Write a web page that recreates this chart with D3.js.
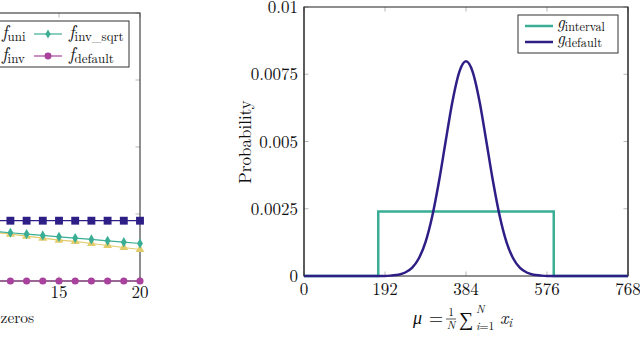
<!DOCTYPE html>
<html>
<head>
<meta charset="utf-8">
<script src="https://cdn.jsdelivr.net/npm/d3@7"></script>
<style>
  body { margin: 0; background: #fff; }
</style>
</head>
<body>
<div id="chart"></div>
<script>
"use strict";

// ---- left chart (cropped) ----
const nZeros = [10, 11, 12, 13, 14, 15, 16, 17, 18, 19, 20];
const fUni = [0.9, 0.9, 0.9, 0.9, 0.9, 0.9, 0.9, 0.9, 0.9, 0.9, 0.9];
const fInv = [0.76, 0.73, 0.70, 0.67, 0.64, 0.61, 0.59, 0.56, 0.53, 0.50, 0.47];
const fInvSqrt = [0.76, 0.74, 0.72, 0.70, 0.68, 0.66, 0.64, 0.62, 0.60, 0.58, 0.56];
const fDefault = [0, 0, 0, 0, 0, 0, 0, 0, 0, 0, 0];
const leftXTicks = [0, 5, 10, 15, 20];
const leftXLabels = [15, 20];
const leftYTicks = [0, 1, 2, 3, 4];

// ---- right chart ----
const muTicks = [0, 192, 384, 576, 768];
const probTicks = [0, 0.0025, 0.005, 0.0075, 0.01];
const intervalMu = [0, 176, 176, 592, 592, 768];
const intervalP = [0, 0, 0.0024, 0.0024, 0, 0];
const defaultMu = [0, 192, 208, 224, 240, 256, 272, 288, 304, 320, 336, 352, 368, 384,
  400, 416, 432, 448, 464, 480, 496, 512, 528, 544, 560, 576, 768];
const defaultP = [0, 0, 0.00002, 0.00005, 0.00013, 0.0003, 0.00065, 0.00126, 0.00222, 0.00352,
  0.00503, 0.0065, 0.00758, 0.00798, 0.00758, 0.0065, 0.00503, 0.00352, 0.00222, 0.00126,
  0.00065, 0.0003, 0.00013, 0.00005, 0.00002, 0, 0];

const colors = {
  teal: "#3aae95",
  navy: "#2d1f86",
  purple: "#a8429c",
  yellow: "#e2cb6a",
  frame: "#333",
  tick: "#b8b8b8"
};
const serif = "'Latin Modern Roman'";

const svg = d3.select("#chart").append("svg")
  .attr("width", 640)
  .attr("height", 357)
  .style("font-family", serif)
  .style("display", "block");

// plain text helper
function label(g, x, y, str, size, anchor) {
  return g.append("text")
    .attr("x", x)
    .attr("y", y)
    .attr("text-anchor", anchor || "start")
    .style("font-family", serif)
    .style("font-size", size + "px")
    .attr("fill", "#111")
    .text(str);
}

// draw a subscripted math label like f_{uni}
function mathLabel(g, x, y, base, sub, size) {
  let t = label(g, x, y, "", size);
  t.append("tspan").style("font-style", "italic").text(base);
  t.append("tspan").attr("dy", 3).style("font-size", (size * 0.72) + "px").text(sub);
  return t;
}

// inward ticks on all four sides, pgfplots style
function frameTicks(g, x, y, xt, yt) {
  let [x0, x1] = x.range();
  let [y0, y1] = y.range();
  xt.forEach((v) => {
    g.append("line").attr("x1", x(v)).attr("x2", x(v)).attr("y1", y0).attr("y2", y0 - 4.5)
      .attr("stroke", colors.tick).attr("stroke-width", 1);
    g.append("line").attr("x1", x(v)).attr("x2", x(v)).attr("y1", y1).attr("y2", y1 + 4.5)
      .attr("stroke", colors.tick).attr("stroke-width", 1);
  });
  yt.forEach((v) => {
    g.append("line").attr("x1", x0).attr("x2", x0 + 4.5).attr("y1", y(v)).attr("y2", y(v))
      .attr("stroke", colors.tick).attr("stroke-width", 1);
    g.append("line").attr("x1", x1).attr("x2", x1 - 4.5).attr("y1", y(v)).attr("y2", y(v))
      .attr("stroke", colors.tick).attr("stroke-width", 1);
  });
  g.append("rect")
    .attr("x", x0).attr("y", y1)
    .attr("width", x1 - x0).attr("height", y0 - y1)
    .attr("fill", "none")
    .attr("stroke", colors.frame)
    .attr("stroke-width", 1.1);
}

// ================= left chart =================
function drawLeft() {
  let g = svg.append("g");
  let x = d3.scaleLinear().domain([0, 20]).range([-184, 140]);
  let y = d3.scaleLinear().domain([0, 4]).range([281, 13]);

  frameTicks(g, x, y, leftXTicks, leftYTicks);

  let series = [
    { vals: fUni, color: colors.navy, sym: d3.symbolSquare, size: 62 },
    { vals: fInv, color: colors.yellow, sym: d3.symbolTriangle, size: 34 },
    { vals: fInvSqrt, color: colors.teal, sym: d3.symbolDiamond, size: 30 },
    { vals: fDefault, color: colors.purple, sym: d3.symbolCircle, size: 40 }
  ];

  let line = d3.line().x((d) => x(d[0])).y((d) => y(d[1]));
  series.forEach((s) => {
    let pts = nZeros.map((n, i) => [n, s.vals[i]]);
    g.append("path")
      .attr("d", line(pts))
      .attr("fill", "none")
      .attr("stroke", s.color)
      .attr("stroke-width", 1.2);
    g.selectAll(null)
      .data(pts)
      .enter()
      .append("path")
      .attr("d", d3.symbol().type(s.sym).size(s.size))
      .attr("transform", (d) => "translate(" + x(d[0]) + "," + y(d[1]) + ")")
      .attr("fill", s.color);
  });

  // only the tick labels that fall inside the crop
  leftXLabels.forEach((v) => label(g, x(v), 298, v, 17, "middle"));
  label(g, 0.5, 323, "zeros", 15.5);

  // legend (left part is cut off by the crop)
  let lg = g.append("g");
  lg.append("rect")
    .attr("x", -90).attr("y", 21)
    .attr("width", 219).attr("height", 46)
    .attr("fill", "#fff")
    .attr("stroke", colors.frame)
    .attr("stroke-width", 1);
  let rows = [
    [{ c: colors.navy, sym: d3.symbolSquare, s: 40, sub: "uni" }, { c: colors.teal, sym: d3.symbolDiamond, s: 24, sub: "inv_sqrt" }],
    [{ c: colors.yellow, sym: d3.symbolTriangle, s: 28, sub: "inv" }, { c: colors.purple, sym: d3.symbolCircle, s: 38, sub: "default" }]
  ];
  let colX = [-33, 34];
  rows.forEach((row, r) => {
    let yy = 34 + r * 22;
    row.forEach((e, c) => {
      let lx = colX[c];
      lg.append("line")
        .attr("x1", lx).attr("x2", lx + 28)
        .attr("y1", yy).attr("y2", yy)
        .attr("stroke", e.c).attr("stroke-width", 1.2);
      lg.append("path")
        .attr("d", d3.symbol().type(e.sym).size(e.s))
        .attr("transform", "translate(" + (lx + 14) + "," + yy + ")")
        .attr("fill", e.c);
      mathLabel(lg, lx + 35, yy + 4, "f", e.sub, 18);
    });
  });
}

// ================= right chart =================
function drawRight() {
  let g = svg.append("g");
  let x = d3.scaleLinear().domain([0, 768]).range([304, 628]);
  let y = d3.scaleLinear().domain([0, 0.01]).range([276, 7]);

  frameTicks(g, x, y, muTicks, probTicks);

  let line = d3.line().x((d) => x(d[0])).y((d) => y(d[1]));
  g.append("path")
    .attr("d", line(intervalMu.map((m, i) => [m, intervalP[i]])))
    .attr("fill", "none")
    .attr("stroke", colors.teal)
    .attr("stroke-width", 2.5);
  g.append("path")
    .attr("d", line.curve(d3.curveMonotoneX)(defaultMu.map((m, i) => [m, defaultP[i]])))
    .attr("fill", "none")
    .attr("stroke", colors.navy)
    .attr("stroke-width", 2.5);

  // redraw the side edges over the curves where they meet
  [304, 628].forEach((xx) => {
    g.append("line").attr("x1", xx).attr("x2", xx).attr("y1", 7).attr("y2", 276)
      .attr("stroke", colors.frame).attr("stroke-width", 1.1);
  });

  muTicks.forEach((v) => label(g, x(v), 295, v, 17, "middle"));
  probTicks.forEach((v) => label(g, 298, y(v) + 6, String(v), 17, "end"));

  g.append("text")
    .attr("transform", "translate(251,142) rotate(-90)")
    .attr("text-anchor", "middle")
    .style("font-family", serif)
    .style("font-size", "17px")
    .attr("fill", "#111")
    .text("Probability");

  // x label: mu = 1/N sum_{i=1}^N x_i
  let xl = g.append("g");
  label(xl, 413, 324, "μ", 18).style("font-style", "italic");
  label(xl, 429, 324, "=", 18);
  label(xl, 451, 316, "1", 11.5, "middle");
  xl.append("line").attr("x1", 446).attr("x2", 456).attr("y1", 319).attr("y2", 319)
    .attr("stroke", "#111").attr("stroke-width", 0.7);
  label(xl, 451, 329, "N", 11.5, "middle").style("font-style", "italic");
  label(xl, 459, 326, "∑", 20);
  label(xl, 476, 313, "N", 11.5).style("font-style", "italic");
  let sub = label(xl, 476, 330, "", 11.5);
  sub.append("tspan").style("font-style", "italic").text("i");
  sub.append("tspan").text("=1");
  let xi = label(xl, 500, 324, "", 18);
  xi.append("tspan").style("font-style", "italic").text("x");
  xi.append("tspan").attr("dy", 3).style("font-size", "12.5px").style("font-style", "italic").text("i");

  // legend
  let lg = g.append("g");
  lg.append("rect")
    .attr("x", 518).attr("y", 15)
    .attr("width", 100).attr("height", 38)
    .attr("fill", "#fff")
    .attr("stroke", colors.frame)
    .attr("stroke-width", 1);
  [[colors.teal, "interval"], [colors.navy, "default"]].forEach((e, i) => {
    let yy = 26 + i * 16;
    lg.append("line")
      .attr("x1", 525).attr("x2", 553)
      .attr("y1", yy).attr("y2", yy)
      .attr("stroke", e[0]).attr("stroke-width", 2.5);
    mathLabel(lg, 557, yy + 2, "g", e[1], 17);
  });
}

drawLeft();
drawRight();
</script>
</body>
</html>
